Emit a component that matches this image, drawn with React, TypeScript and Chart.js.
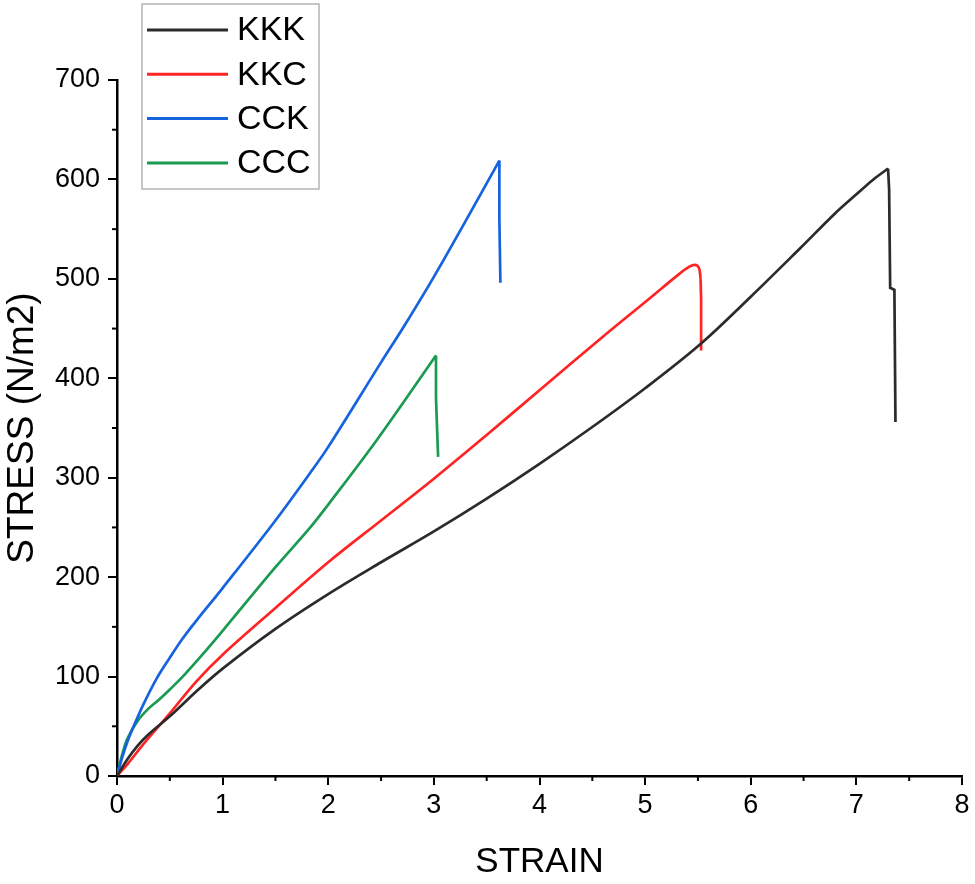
import React, { useEffect, useRef } from "react";
import { Chart, registerables } from "chart.js";

Chart.register(...registerables);

const seriesNames = ["KKK", "KKC", "CCK", "CCC"];
const seriesColors = ["#2b2b2b", "#ff2424", "#1663de", "#1b9a52"];

// strain / stress pairs
const kkkStrain = [0, 0.1, 0.2, 0.3, 0.5, 0.75, 1, 1.5, 2, 2.5, 3, 3.5, 4, 4.5, 5, 5.53, 6, 6.47, 6.8, 7, 7.15, 7.3, 7.31, 7.32, 7.36, 7.37];
const kkkStress = [0, 17, 31, 42, 60, 85, 108, 148, 183, 215, 246, 279, 314, 351, 390, 435, 482, 531, 566, 585, 599, 611, 590, 491, 489, 356];

const kkcStrain = [0, 0.1, 0.25, 0.5, 0.75, 1, 1.5, 2, 2.5, 3, 3.5, 4, 4.58, 5.05, 5.3, 5.4, 5.47, 5.51, 5.525, 5.53, 5.53];
const kkcStress = [0, 12, 32, 63, 95, 122, 169, 215, 257, 299, 343, 388, 440, 481, 503, 511, 514, 511, 500, 480, 428];

const cckStrain = [0, 0.05, 0.1, 0.15, 0.25, 0.375, 0.5, 0.62, 0.75, 1, 1.5, 1.83, 2, 2.5, 2.71, 3, 3.3, 3.62, 3.62, 3.63];
const cckStress = [0, 19, 35, 48, 72, 98, 119, 138, 156, 189, 257, 305, 331, 416, 451, 502, 558, 619, 560, 496];

const cccStrain = [0, 0.05, 0.1, 0.2, 0.3, 0.4, 0.5, 0.64, 0.8, 1, 1.5, 1.83, 2, 2.46, 3.02, 3.02, 3.04];
const cccStress = [0, 22, 38, 56, 68, 77, 87, 102, 121, 146, 210, 250, 273, 338, 423, 380, 321];

// index of the point where each sample breaks (smooth before, straight drop after)
const breakIndex = [21, 18, 17, 14];

const xTicks = [0, 1, 2, 3, 4, 5, 6, 7, 8];
const yTicks = [0, 100, 200, 300, 400, 500, 600, 700];

const strains = [kkkStrain, kkcStrain, cckStrain, cccStrain];
const stresses = [kkkStress, kkcStress, cckStress, cccStress];

const FONT = "'Liberation Sans', Arial, sans-serif";

// short ticks halfway between the labelled ones
const minorTicks = {
  id: "minorTicks",
  afterDraw(chart: any) {
    const { ctx, scales } = chart;
    const xs = scales.x;
    const ys = scales.y;
    ctx.save();
    ctx.strokeStyle = "#000";
    ctx.lineWidth = 2;
    for (let i = 0; i < xTicks.length - 1; i++) {
      const px = xs.getPixelForValue((xTicks[i] + xTicks[i + 1]) / 2);
      ctx.beginPath();
      ctx.moveTo(px, ys.bottom);
      ctx.lineTo(px, ys.bottom + 5);
      ctx.stroke();
    }
    for (let i = 0; i < yTicks.length - 1; i++) {
      const py = ys.getPixelForValue((yTicks[i] + yTicks[i + 1]) / 2);
      ctx.beginPath();
      ctx.moveTo(xs.left, py);
      ctx.lineTo(xs.left - 5, py);
      ctx.stroke();
    }
    ctx.restore();
  },
};

// boxed legend sitting over the top-left corner
const legendBox = {
  id: "legendBox",
  afterDraw(chart: any) {
    const ctx = chart.ctx;
    ctx.save();
    ctx.fillStyle = "#fff";
    ctx.fillRect(142, 4, 177, 185);
    ctx.strokeStyle = "#b4b4b4";
    ctx.lineWidth = 1.5;
    ctx.strokeRect(142, 4, 177, 185);
    ctx.font = `34px ${FONT}`;
    ctx.textBaseline = "middle";
    seriesNames.forEach((name, i) => {
      const y = 30 + i * 44.3;
      ctx.strokeStyle = seriesColors[i];
      ctx.lineWidth = 3;
      ctx.beginPath();
      ctx.moveTo(147, y);
      ctx.lineTo(228, y);
      ctx.stroke();
      ctx.fillStyle = "#000";
      ctx.fillText(name, 237, y + 1);
    });
    ctx.restore();
  },
};

const StressStrainChart = () => {
  const chartRef = useRef<HTMLCanvasElement | null>(null);
  const chartInstanceRef = useRef<Chart | null>(null);

  useEffect(() => {
    const ctx = chartRef.current?.getContext("2d");
    if (!ctx) return;
    if (chartInstanceRef.current) chartInstanceRef.current.destroy();

    const datasets: any[] = [];
    seriesNames.forEach((name, i) => {
      const pts = strains[i].map((x, j) => ({ x, y: stresses[i][j] }));
      const k = breakIndex[i];
      // loading curve
      datasets.push({
        label: name,
        data: pts.slice(0, k + 1),
        showLine: true,
        borderColor: seriesColors[i],
        backgroundColor: seriesColors[i],
        borderWidth: 2.7,
        pointRadius: 0,
        tension: 0.35,
      });
      // fracture drop
      datasets.push({
        label: name + " drop",
        data: pts.slice(k),
        showLine: true,
        borderColor: seriesColors[i],
        backgroundColor: seriesColors[i],
        borderWidth: 2.7,
        pointRadius: 0,
        tension: 0,
      });
    });

    chartInstanceRef.current = new Chart(ctx, {
      type: "scatter",
      data: { datasets },
      options: {
        animation: false,
        responsive: true,
        maintainAspectRatio: false,
        layout: { padding: { top: 80, right: 13, left: 0, bottom: 0 } },
        plugins: { legend: { display: false }, tooltip: { enabled: false } },
        scales: {
          x: {
            type: "linear",
            min: 0,
            max: 8,
            afterFit: (scale: any) => {
              scale.height = 108;
            },
            ticks: {
              stepSize: 1,
              color: "#000",
              padding: 4,
              font: { family: FONT, size: 27 },
            },
            grid: {
              drawOnChartArea: false,
              color: "#000",
              tickColor: "#000",
              tickLength: 9,
              lineWidth: 2,
            },
            border: { display: true, color: "#000", width: 2.5 },
            title: {
              display: true,
              text: "STRAIN",
              color: "#000",
              font: { family: FONT, size: 35 },
              padding: { top: 0, bottom: 1 },
            },
          },
          y: {
            type: "linear",
            min: 0,
            max: 700,
            afterFit: (scale: any) => {
              scale.width = 117;
            },
            ticks: {
              stepSize: 100,
              color: "#000",
              padding: 8,
              font: { family: FONT, size: 27 },
            },
            grid: {
              drawOnChartArea: false,
              color: "#000",
              tickColor: "#000",
              tickLength: 9,
              lineWidth: 2,
            },
            border: { display: true, color: "#000", width: 2.5 },
            title: {
              display: true,
              text: "STRESS (N/m2)",
              color: "#000",
              font: { family: FONT, size: 37 },
              padding: { top: 1, bottom: 0 },
            },
          },
        },
      },
      plugins: [minorTicks, legendBox],
    });

    return () => {
      if (chartInstanceRef.current) {
        chartInstanceRef.current.destroy();
        chartInstanceRef.current = null;
      }
    };
  }, []);

  return (
    <div style={{ position: "fixed", left: 0, top: 0, width: 975, height: 884, background: "#fff" }}>
      <canvas ref={chartRef} style={{ width: "100%", height: "100%" }}></canvas>
    </div>
  );
};

export default function App() {
  return <StressStrainChart />;
}
